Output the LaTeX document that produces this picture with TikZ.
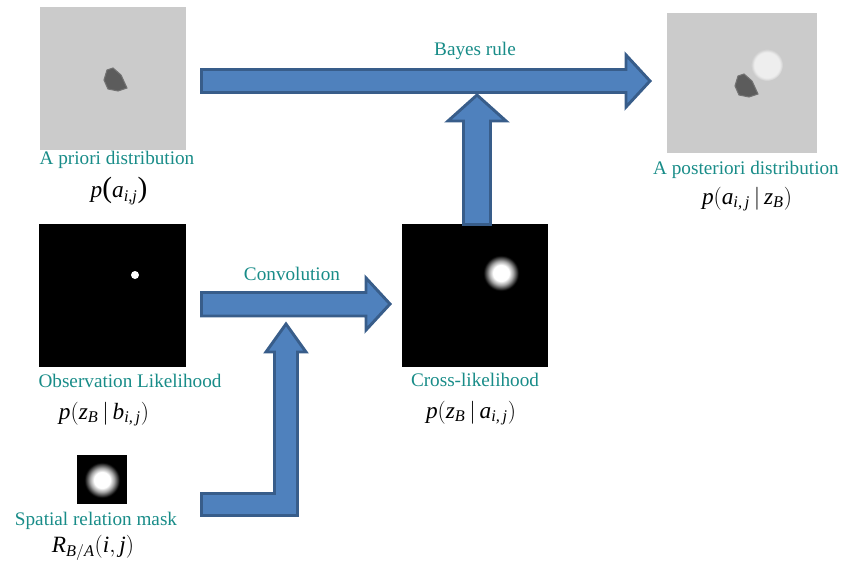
\documentclass[tikz,border=0pt]{standalone}
\usepackage{amsmath}
\usepackage{fontspec}
\setmainfont{Liberation Serif}
\newcommand\vi[1]{\textit{#1}}
\newcommand\tallparen[1]{\text{\fontsize{22}{22}\selectfont #1}}
\definecolor{capteal}{RGB}{24,140,136}
\definecolor{arrowfill}{RGB}{79,129,189}
\definecolor{arrowedge}{RGB}{56,93,138}
\definecolor{mapgray}{RGB}{203,203,203}
\definecolor{blobgray}{RGB}{92,92,92}
\definecolor{spotgray}{RGB}{238,238,238}
% soft bright spots on dark maps (25bp = edge of the shaded circle)
\pgfdeclareradialshading{softspot}{\pgfpoint{0bp}{0bp}}{%
  color(0bp)=(white); color(10bp)=(white); color(15bp)=(white!65!black);
  color(22bp)=(black); color(50bp)=(black)}
% soft light disc on the grey map
\pgfdeclareradialshading{softdisc}{\pgfpoint{0bp}{0bp}}{%
  color(0bp)=(spotgray); color(20bp)=(spotgray); color(25bp)=(mapgray); color(50bp)=(mapgray)}
\begin{document}
\begin{tikzpicture}[x=0.75pt,y=-0.75pt,
  caption/.style={text=capteal,font=\fontsize{14.4}{17}\selectfont,inner sep=0pt},
  formula/.style={font=\fontsize{17.5}{20}\selectfont,inner sep=0pt},
  mapbox/.style={inner sep=0pt,outer sep=0pt},
  blockarrow/.style={fill=arrowfill,draw=arrowedge,line width=2.2pt,line join=miter}]
\useasboundingbox (0,0) rectangle (858,565);

% ---- maps ----
\node[mapbox,fill=mapgray,minimum width=109.5pt,minimum height=107.25pt] (prior) at (113,78.5) {};
\node[mapbox,fill=mapgray,minimum width=112.5pt,minimum height=105pt] (posterior) at (742,83) {};
\node[mapbox,fill=black,minimum width=110.25pt,minimum height=107.25pt] (obs) at (112.5,295.5) {};
\node[mapbox,fill=black,minimum width=109.5pt,minimum height=107.25pt] (cross) at (475,295.5) {};
\node[mapbox,fill=black,minimum width=37.5pt,minimum height=36.75pt] (mask) at (102,479.5) {};

% object A on the prior and posterior maps
\fill[blobgray,draw=blobgray!80!mapgray,line width=0.8pt]
  (107,70) -- (113,68) -- (121,75) -- (127,88) -- (118,91) -- (108,89) -- (104,80) -- cycle;
\fill[blobgray,draw=blobgray!80!mapgray,line width=0.8pt,shift={(631,6)}]
  (107,70) -- (113,68) -- (121,75) -- (127,88) -- (118,91) -- (108,89) -- (104,80) -- cycle;
\shade[shading=softdisc] (767,65) circle (12pt);

% observation point and likelihood spots
\fill[white] (135,275) circle (3pt);
\shade[shading=softspot] (501,273) circle (15pt);
\shade[shading=softspot] (102,480) circle (15pt);

% ---- block arrows ----
\draw[blockarrow] (463.5,224.5) -- (463.5,121) -- (448,121) -- (477,95) -- (506,121)
  -- (490.5,121) -- (490.5,224.5) -- cycle;
\draw[blockarrow] (201.5,69.5) -- (626,69.5) -- (626,55) -- (650,81) -- (626,107)
  -- (626,92.5) -- (201.5,92.5) -- cycle;
\draw[blockarrow] (201.5,292.5) -- (366,292.5) -- (366,278) -- (390,304) -- (366,330)
  -- (366,316) -- (201.5,316) -- cycle;
\draw[blockarrow] (201.5,493.5) -- (274.5,493.5) -- (274.5,352) -- (266,352) -- (286,324)
  -- (306,352) -- (297.5,352) -- (297.5,515.5) -- (201.5,515.5) -- cycle;

% ---- arrow labels ----
\node[caption] (bayes) at (475,51) {Bayes rule};
\node[caption] (conv) at (292,274) {Convolution};

% ---- captions and formulas ----
\node[caption] (priorcap) at (117,160) {A priori distribution};
\node[formula] (priorf) at (119,191) {$\vi{p}\tallparen{(}\vi{a}_{\vi{i,j}}\tallparen{)}$};
\node[caption] (postcap) at (746,170) {A posteriori distribution};
\node[formula] (postf) at (747,199) {$\vi{p}(\vi{a}_{\vi{i,\,j}}\,|\,\vi{z}_{\vi{B}})$};
\node[caption] (obscap) at (130,381) {Observation Likelihood};
\node[formula] (obsf) at (104,414) {$\vi{p}(\vi{z}_{\vi{B}}\,|\,\vi{b}_{\vi{i,\,j}})$};
\node[caption] (crosscap) at (475,380) {Cross-likelihood};
\node[formula] (crossf) at (471,413) {$\vi{p}(\vi{z}_{\vi{B}}\,|\,\vi{a}_{\vi{i,\,j}})$};
\node[caption] (maskcap) at (96,521) {Spatial relation mask};
\node[formula] (maskf) at (93,548) {$\vi{R}_{\vi{B}/\vi{A}}(\vi{i}, \vi{j})$};
\end{tikzpicture}
\end{document}
